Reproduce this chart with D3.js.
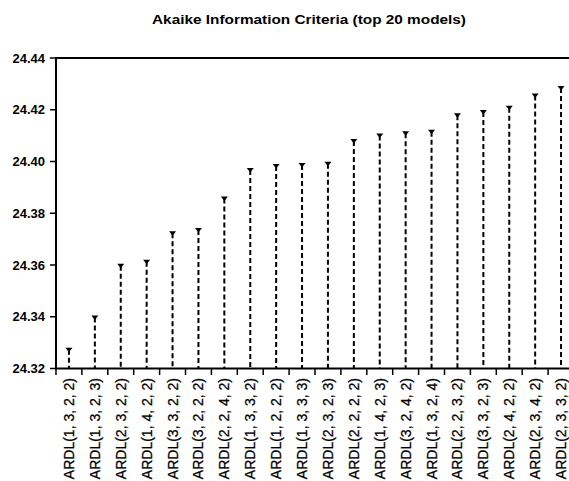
<!DOCTYPE html>
<html>
<head>
<meta charset="utf-8">
<script src="https://cdn.jsdelivr.net/npm/d3@7"></script>
<style>
  body { margin: 0; background: #fff; }
  svg { display: block; font-family: Arial, "Liberation Sans", sans-serif; }
</style>
</head>
<body>
<script>
// model names and their AIC values
var models = ["ARDL(1, 3, 2, 2)", "ARDL(1, 3, 2, 3)", "ARDL(2, 3, 2, 2)", "ARDL(1, 4, 2, 2)",
  "ARDL(3, 3, 2, 2)", "ARDL(3, 2, 2, 2)", "ARDL(2, 2, 4, 2)", "ARDL(1, 3, 3, 2)",
  "ARDL(1, 2, 2, 2)", "ARDL(1, 3, 3, 3)", "ARDL(2, 3, 2, 3)", "ARDL(2, 2, 2, 2)",
  "ARDL(1, 4, 2, 3)", "ARDL(3, 2, 4, 2)", "ARDL(1, 3, 2, 4)", "ARDL(2, 2, 3, 2)",
  "ARDL(3, 3, 2, 3)", "ARDL(2, 4, 2, 2)", "ARDL(2, 3, 4, 2)", "ARDL(2, 3, 3, 2)"];
var aic = [24.328, 24.3405, 24.3605, 24.362, 24.373, 24.3743, 24.3865, 24.3975,
  24.399, 24.3994, 24.3999, 24.4087, 24.4108, 24.4117, 24.4123, 24.4186,
  24.4199, 24.4215, 24.4263, 24.4292];
var yTicks = [24.32, 24.34, 24.36, 24.38, 24.40, 24.42, 24.44];

var width = 569, height = 481;

var svg = d3.select("body").append("svg")
    .attr("width", width)
    .attr("height", height);

var x = d3.scaleBand()
    .domain(models)
    .range([56, 56 + 20 * 25.9]);

var y = d3.scaleLinear()
    .domain([24.32, 24.44])
    .range([368.5, 58]);

// title
svg.append("text")
    .attr("x", 152)
    .attr("y", 24)
    .attr("font-size", "13px")
    .attr("font-weight", "bold")
    .attr("textLength", 314)
    .attr("lengthAdjust", "spacingAndGlyphs")
    .text("Akaike Information Criteria (top 20 models)");

// frame
svg.append("rect")
    .attr("x", x.range()[0])
    .attr("y", y(24.44))
    .attr("width", x.range()[1] - x.range()[0])
    .attr("height", y(24.32) - y(24.44))
    .attr("fill", "none")
    .attr("stroke", "#000")
    .attr("stroke-width", 2);

// y axis
svg.selectAll(".ytick")
    .data(yTicks)
    .enter().append("line")
    .attr("class", "ytick")
    .attr("x1", 50).attr("x2", 56)
    .attr("y1", function(d) { return y(d); })
    .attr("y2", function(d) { return y(d); })
    .attr("stroke", "#000")
    .attr("stroke-width", 1.5);

svg.selectAll(".ylab")
    .data(yTicks)
    .enter().append("text")
    .attr("class", "ylab")
    .attr("x", 45)
    .attr("y", function(d) { return y(d) + 4.5; })
    .attr("text-anchor", "end")
    .attr("font-size", "13px")
    .attr("font-weight", "bold")
    .text(function(d) { return d.toFixed(2); });

// x ticks at band edges
svg.selectAll(".xtick")
    .data(models)
    .enter().append("line")
    .attr("class", "xtick")
    .attr("x1", function(d) { return x(d); })
    .attr("x2", function(d) { return x(d); })
    .attr("y1", y(24.32)).attr("y2", y(24.32) + 6.5)
    .attr("stroke", "#000")
    .attr("stroke-width", 1.5);

svg.selectAll(".xlab")
    .data(models)
    .enter().append("text")
    .attr("class", "xlab")
    .attr("transform", function(d) {
      return "translate(" + (x(d) + x.bandwidth() / 2 + 5) + ",378) rotate(-90)";
    })
    .attr("text-anchor", "end")
    .attr("font-size", "14px")
    .attr("stroke", "#000")
    .attr("stroke-width", 0.25)
    .text(function(d) { return d; });

// dashed stems
svg.selectAll(".stem")
    .data(aic)
    .enter().append("line")
    .attr("class", "stem")
    .attr("x1", function(d, i) { return x(models[i]) + x.bandwidth() / 2; })
    .attr("x2", function(d, i) { return x(models[i]) + x.bandwidth() / 2; })
    .attr("y1", function(d) { return y(d) + 2; })
    .attr("y2", y(24.32))
    .attr("stroke", "#000")
    .attr("stroke-width", 2)
    .attr("stroke-dasharray", "5,3");

// down-pointing markers
svg.selectAll(".mark")
    .data(aic)
    .enter().append("path")
    .attr("class", "mark")
    .attr("d", function(d, i) {
      var cx = x(models[i]) + x.bandwidth() / 2, cy = y(d);
      return "M" + (cx - 3.5) + "," + cy + "L" + (cx + 3.5) + "," + cy + "L" + cx + "," + (cy + 4.5) + "Z";
    })
    .attr("fill", "#000");
</script>
</body>
</html>
